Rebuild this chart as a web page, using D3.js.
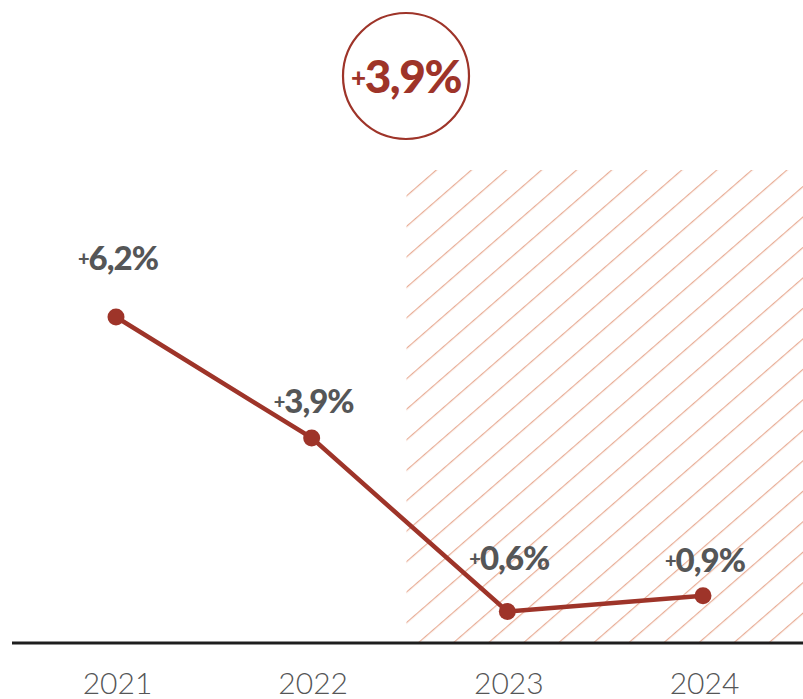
<!DOCTYPE html>
<html><head><meta charset="utf-8">
<script src="https://cdn.jsdelivr.net/npm/d3@7"></script>
<style>body{margin:0;background:#fff}svg{display:block}</style>
</head><body>
<script>
const years = ["2021","2022","2023","2024"];
const growth = [6.2, 3.9, 0.6, 0.9];
const valueLabels = ["6,2%","3,9%","0,6%","0,9%"];
const headline = "3,9%";
const forecastFrom = "2023";

const W = 803, H = 699;
const red = "#9e3429", grey = "#555657", hatch = "#e8ad96";
const labelDy = [-47, -25, -41, -24];

const svg = d3.select("body").append("svg").attr("width", W).attr("height", H);
const x = d3.scalePoint().domain(years).range([116, 703]);
const y = d3.scaleLinear().domain([0, 6.2]).range([643, 317]);

// hatch pattern
const defs = svg.append("defs");
const pat = defs.append("pattern").attr("id","hatch").attr("patternUnits","userSpaceOnUse")
  .attr("width", 23).attr("height", 23).attr("patternTransform","rotate(49)");
pat.append("line").attr("x1",0).attr("y1",0).attr("x2",0).attr("y2",23)
  .attr("stroke", hatch).attr("stroke-width", 2.4);
const step = x.step();
const hx = x(forecastFrom) - step/2 - 3;
svg.append("rect").attr("x", hx).attr("y", 170).attr("width", W - hx).attr("height", y(0) - 170)
  .attr("fill","url(#hatch)");

// axis baseline
svg.append("line").attr("x1", 12).attr("x2", W).attr("y1", y(0)).attr("y2", y(0))
  .attr("stroke","#1e1e1e").attr("stroke-width", 3);

// year labels
const axis = d3.axisBottom(x).tickSize(0).tickPadding(30);
const ag = svg.append("g").attr("transform", `translate(0,${y(0)})`).call(axis);
ag.select(".domain").remove();
ag.selectAll("text").attr("font-family","Lato, 'Open Sans', sans-serif").attr("font-weight",300)
  .attr("font-size", 30).attr("fill", grey).attr("dx", 1);

// line
const pts = years.map((d,i)=>({year:d, v:growth[i], lab:valueLabels[i], dy:labelDy[i]}));
svg.append("path").datum(pts)
  .attr("d", d3.line().x(d=>x(d.year)).y(d=>y(d.v)))
  .attr("fill","none").attr("stroke", red).attr("stroke-width", 4.5);
svg.selectAll("circle.pt").data(pts).join("circle").attr("class","pt")
  .attr("cx", d=>x(d.year)).attr("cy", d=>y(d.v)).attr("r", 8.5).attr("fill", red);

// value labels
const lt = svg.selectAll("text.val").data(pts).join("text").attr("class","val")
  .attr("x", d=>x(d.year)+2).attr("y", d=>y(d.v)+d.dy)
  .attr("text-anchor","middle").attr("font-family","Lato, sans-serif").attr("font-weight",900)
  .attr("fill", grey).attr("font-size", 33).attr("letter-spacing", -1);
lt.append("tspan").attr("font-size", 20).attr("dy", -4).text("+");
lt.append("tspan").attr("dy", 4).text(d=>d.lab);

// headline circle
svg.append("circle").attr("cx", 406).attr("cy", 76).attr("r", 63)
  .attr("fill","none").attr("stroke", red).attr("stroke-width", 2.2);
const ht = svg.append("text").attr("x", 406).attr("y", 93).attr("text-anchor","middle")
  .attr("font-family","Lato, sans-serif").attr("font-weight",900).attr("fill", red)
  .attr("font-size", 46).attr("letter-spacing", -1.5);
ht.append("tspan").attr("font-size", 26).attr("dy", -6).text("+");
ht.append("tspan").attr("dy", 6).text(headline);
</script>
</body></html>
